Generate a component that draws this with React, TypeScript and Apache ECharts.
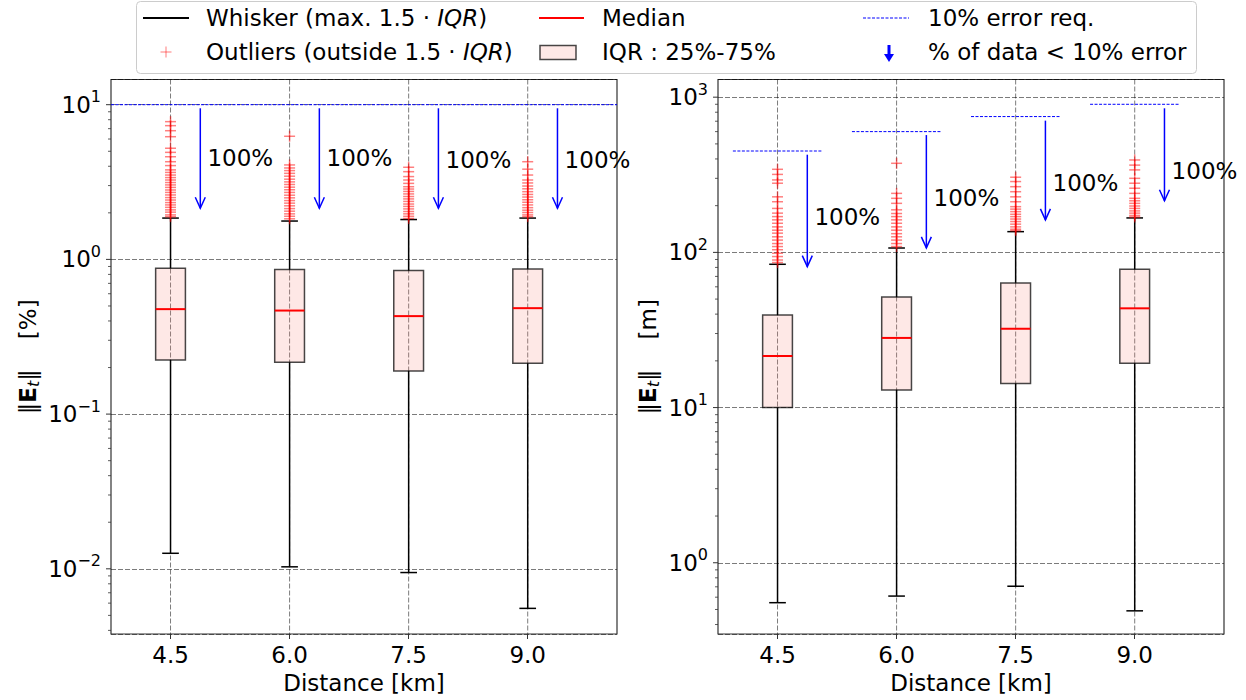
import React, { useEffect, useRef } from 'react';
import * as echarts from 'echarts';

const FONT = 'DejaVu Sans';
const FS = 23;
const SUP = 16;

// Categories (distance in km) and their box positions
const categories = ['4.5', '6.0', '7.5', '9.0'];
const positions = [1, 2, 3, 4];

// ---------- Left panel: ||E_t|| [%] ----------
const leftWhiskerLow = [0.0126, 0.0103, 0.00946, 0.00555];
const leftQ1 = [0.224, 0.216, 0.19, 0.213];
const leftMedian = [0.477, 0.467, 0.43, 0.484];
const leftQ3 = [0.877, 0.86, 0.847, 0.868];
const leftWhiskerHigh = [1.85, 1.77, 1.81, 1.85];
const leftOutliers = [
  [7.77, 7.32, 6.79, 6.21, 5.23, 4.92, 4.61, 4.28, 4.04, 3.79, 3.65, 3.51, 3.38, 3.26, 3.14, 3.03, 2.92, 2.81, 2.71, 2.61, 2.51, 2.42, 2.33, 2.25, 2.17, 2.09, 2.02, 1.94, 1.89],
  [6.25, 4.08, 3.9, 3.75, 3.6, 3.45, 3.3, 3.17, 3.05, 2.93, 2.82, 2.71, 2.6, 2.5, 2.4, 2.31, 2.22, 2.13, 2.05, 1.97, 1.9, 1.83],
  [3.94, 3.69, 3.43, 3.26, 3.1, 2.95, 2.85, 2.75, 2.65, 2.55, 2.46, 2.37, 2.28, 2.2, 2.12, 2.04, 1.97, 1.9, 1.84],
  [4.28, 3.83, 3.51, 3.26, 3.12, 2.98, 2.86, 2.74, 2.63, 2.53, 2.43, 2.34, 2.25, 2.16, 2.08, 2.01, 1.94, 1.89],
];
const leftRequirement = [10];
const leftArrowTop = [9.48, 9.48, 9.48, 9.48];
const leftArrowBottom = [2.14, 2.14, 2.14, 2.14];
const leftLabelValue = [4.5, 4.5, 4.4, 4.4];
const leftPctLabels = ['100%', '100%', '100%', '100%'];

// ---------- Right panel: ||E_t|| [m] ----------
const rightWhiskerLow = [0.553, 0.61, 0.706, 0.49];
const rightQ1 = [10.0, 13.0, 14.3, 19.3];
const rightMedian = [21.5, 28.1, 32.2, 43.6];
const rightQ3 = [39.5, 51.6, 63.6, 77.8];
const rightWhiskerHigh = [83.8, 106.7, 136, 166.7];
const rightOutliers = [
  [343, 318, 293, 279, 228, 212, 192, 179, 170, 162, 154, 146, 139, 133, 126, 120, 114, 109, 104, 98.7, 94, 89.3, 86],
  [375, 240, 223, 207, 188, 178, 170, 162, 154, 146, 139, 132, 126, 120, 114, 109],
  [305, 286, 265, 246, 228, 212, 197, 190, 183, 176, 170, 164, 158, 152, 146, 141, 138],
  [394, 365, 340, 300, 279, 259, 240, 223, 215, 207, 199, 192, 185, 179, 173, 169],
];
const rightRequirement = [450, 600, 750, 900];
const rightArrowTop = [426, 570, 706, 848];
const rightArrowBottom = [80.9, 107, 162, 215];
const rightLabelValue = [169, 223, 281, 336];
const rightPctLabels = ['100%', '100%', '100%', '100%'];

// Axis tick values
const leftMajorTicks = [0.01, 0.1, 1, 10];
const rightMajorTicks = [1, 10, 100, 1000];
const minorDecades = (exps: number[]) => {
  const out: number[] = [];
  exps.forEach((e) => {
    [2, 3, 4, 5, 6, 7, 8, 9].forEach((m) => out.push(+(m * Math.pow(10, e)).toPrecision(3)));
  });
  return out;
};
const leftMinorTicks = minorDecades([-3, -2, -1, 0, 1]);
const rightMinorTicks = minorDecades([-1, 0, 1, 2, 3]);

const powLabel = (v: number) => {
  const e = Math.log10(v);
  const r = Math.round(e);
  if (Math.abs(e - r) > 1e-6) return '';
  return '10{sup|' + (r < 0 ? '\u2212' + -r : String(r)) + '}';
};

const gridLine = { color: 'rgba(0,0,0,0.65)', width: 0.8, type: [5, 2] as any };

function makeYAxis(gridIndex: number, min: number, max: number, unit: string, nameGap: number) {
  return {
    type: 'log',
    logBase: 10,
    gridIndex,
    min,
    max,
    axisLine: { show: false },
    axisTick: { show: false },
    axisLabel: {
      formatter: powLabel,
      fontSize: FS,
      color: '#000',
      fontFamily: FONT,
      margin: 10,
      showMinLabel: false,
      showMaxLabel: false,
      rich: { sup: { fontSize: SUP, color: '#000', fontFamily: FONT, padding: [0, 0, 16, 0] } },
    },
    splitLine: { show: true, lineStyle: gridLine },
    minorTick: { show: false },
    name: '{n|\u2016}{b|E}{s|t}{n|\u2016}{g| }{n|[' + unit + ']}',
    nameLocation: 'middle',
    nameRotate: 90,
    nameGap,
    nameTextStyle: {
      fontSize: FS,
      color: '#000',
      fontFamily: FONT,
      rich: {
        n: { fontSize: FS, color: '#000', fontFamily: FONT },
        b: { fontSize: FS, color: '#000', fontFamily: FONT, fontWeight: 'bold' },
        s: { fontSize: SUP, color: '#000', fontFamily: FONT, fontStyle: 'italic', padding: [10, 0, 0, 0] },
        g: { fontSize: FS, width: 30 },
      },
    },
  };
}

function makeXAxis(gridIndex: number) {
  return {
    type: 'value',
    gridIndex,
    min: 0.5,
    max: 4.75,
    axisLine: { show: false },
    axisTick: { show: true, customValues: positions, length: 5, lineStyle: { color: '#333', width: 1 } },
    axisLabel: {
      customValues: positions,
      formatter: (v: number) => categories[Math.round(v) - 1] ?? '',
      fontSize: FS,
      color: '#000',
      fontFamily: FONT,
      margin: 9,
    },
    splitLine: { show: false },
    name: 'Distance [km]',
    nameLocation: 'middle',
    nameGap: 37,
    nameTextStyle: { fontSize: FS, color: '#000', fontFamily: FONT },
  };
}

function vGridSeries(idx: number) {
  return {
    type: 'custom',
    xAxisIndex: idx,
    yAxisIndex: idx,
    silent: true,
    z: 1,
    data: positions.map((p) => [p, 1]),
    renderItem: (params: any, api: any) => {
      const cs = params.coordSys;
      const x = api.coord([api.value(0), 1])[0];
      return {
        type: 'line',
        shape: { x1: x, y1: cs.y, x2: x, y2: cs.y + cs.height },
        style: { stroke: gridLine.color, lineWidth: gridLine.width, lineDash: [5, 2] },
      };
    },
  };
}

function tickSeries(idx: number, major: number[], minor: number[]) {
  const data = major.map((v) => [0.5, v, 1]).concat(minor.map((v) => [0.5, v, 0]));
  return {
    type: 'custom',
    xAxisIndex: idx,
    yAxisIndex: idx,
    silent: true,
    z: 2,
    data,
    renderItem: (params: any, api: any) => {
      const cs = params.coordSys;
      const y = api.coord([1, api.value(1)])[1];
      if (y < cs.y - 0.5 || y > cs.y + cs.height + 0.5) return null;
      const len = api.value(2) === 1 ? 5 : 3;
      return {
        type: 'line',
        shape: { x1: cs.x - len, y1: y, x2: cs.x, y2: y },
        style: { stroke: '#333', lineWidth: api.value(2) === 1 ? 1 : 0.8 },
      };
    },
  };
}

function boxSeries(idx: number, low: number[], q1: number[], med: number[], q3: number[], high: number[]) {
  return {
    type: 'custom',
    xAxisIndex: idx,
    yAxisIndex: idx,
    silent: true,
    z: 3,
    data: positions.map((p, i) => [p, low[i], q1[i], med[i], q3[i], high[i]]),
    renderItem: (_params: any, api: any) => {
      const x = api.value(0);
      const pLow = api.coord([x, api.value(1)]);
      const pQ1 = api.coord([x, api.value(2)]);
      const pMed = api.coord([x, api.value(3)]);
      const pQ3 = api.coord([x, api.value(4)]);
      const pHigh = api.coord([x, api.value(5)]);
      const half = api.size([0.25, 1])[0] / 2;
      const cap = api.size([0.14, 1])[0] / 2;
      const cx = pQ1[0];
      const black = { stroke: '#000', lineWidth: 1.5 };
      return {
        type: 'group',
        children: [
          { type: 'line', shape: { x1: cx, y1: pLow[1], x2: cx, y2: pQ1[1] }, style: black },
          { type: 'line', shape: { x1: cx, y1: pQ3[1], x2: cx, y2: pHigh[1] }, style: black },
          { type: 'line', shape: { x1: cx - cap, y1: pLow[1], x2: cx + cap, y2: pLow[1] }, style: black },
          { type: 'line', shape: { x1: cx - cap, y1: pHigh[1], x2: cx + cap, y2: pHigh[1] }, style: black },
          {
            type: 'rect',
            shape: { x: cx - half, y: pQ3[1], width: 2 * half, height: pQ1[1] - pQ3[1] },
            style: { fill: 'rgba(250,128,114,0.18)', stroke: 'rgba(0,0,0,0.72)', lineWidth: 1.5 },
          },
          { type: 'line', shape: { x1: cx - half, y1: pMed[1], x2: cx + half, y2: pMed[1] }, style: { stroke: '#ff0000', lineWidth: 2 } },
        ],
      };
    },
  };
}

function outlierSeries(idx: number, outliers: number[][]) {
  const data: number[][] = [];
  outliers.forEach((arr, i) => arr.forEach((v) => data.push([positions[i], v])));
  return {
    type: 'custom',
    xAxisIndex: idx,
    yAxisIndex: idx,
    silent: true,
    z: 4,
    data,
    renderItem: (_params: any, api: any) => {
      const p = api.coord([api.value(0), api.value(1)]);
      const s = 5.5;
      const st = { stroke: 'rgba(255,0,0,0.5)', lineWidth: 1.5 };
      return {
        type: 'group',
        children: [
          { type: 'line', shape: { x1: p[0] - s, y1: p[1], x2: p[0] + s, y2: p[1] }, style: st },
          { type: 'line', shape: { x1: p[0], y1: p[1] - s, x2: p[0], y2: p[1] + s }, style: st },
        ],
      };
    },
  };
}

function reqSeriesFull(idx: number, req: number[]) {
  return {
    type: 'custom',
    xAxisIndex: idx,
    yAxisIndex: idx,
    silent: true,
    z: 2,
    data: req.map((v) => [1, v]),
    renderItem: (params: any, api: any) => {
      const cs = params.coordSys;
      const y = api.coord([1, api.value(1)])[1];
      return {
        type: 'line',
        shape: { x1: cs.x, y1: y, x2: cs.x + cs.width, y2: y },
        style: { stroke: '#0000ff', lineWidth: 1, lineDash: [3, 1.5] },
      };
    },
  };
}

function reqSeriesSeg(idx: number, req: number[]) {
  return {
    type: 'custom',
    xAxisIndex: idx,
    yAxisIndex: idx,
    silent: true,
    z: 2,
    data: positions.map((p, i) => [p, req[i]]),
    renderItem: (_params: any, api: any) => {
      const a = api.coord([api.value(0) - 0.375, api.value(1)]);
      const b = api.coord([api.value(0) + 0.375, api.value(1)]);
      return {
        type: 'line',
        shape: { x1: a[0], y1: a[1], x2: b[0], y2: b[1] },
        style: { stroke: '#0000ff', lineWidth: 1, lineDash: [3, 1.5] },
      };
    },
  };
}

function arrowSeries(idx: number, top: number[], bottom: number[], labelV: number[], labels: string[]) {
  return {
    type: 'custom',
    xAxisIndex: idx,
    yAxisIndex: idx,
    silent: true,
    z: 5,
    data: positions.map((p, i) => [p, top[i], bottom[i], labelV[i]]),
    renderItem: (params: any, api: any) => {
      const x = api.value(0);
      const a = api.coord([x + 0.25, api.value(1)]);
      const b = api.coord([x + 0.25, api.value(2)]);
      const t = api.coord([x + 0.31, api.value(3)]);
      const st = { stroke: '#0000ff', lineWidth: 1.5, fill: 'none' };
      return {
        type: 'group',
        children: [
          { type: 'line', shape: { x1: a[0], y1: a[1], x2: b[0], y2: b[1] }, style: st },
          { type: 'polyline', shape: { points: [[b[0] - 5, b[1] - 11], [b[0], b[1]], [b[0] + 5, b[1] - 11]] }, style: st },
          {
            type: 'text',
            x: t[0],
            y: t[1],
            style: { text: labels[params.dataIndex], fill: '#000', fontSize: FS, fontFamily: FONT, align: 'left', verticalAlign: 'middle' },
          },
        ],
      };
    },
  };
}

function legendGraphics() {
  const txt = (x: number, y: number, text: string) => ({
    type: 'text',
    x,
    y,
    z: 101,
    style: {
      text,
      fill: '#000',
      fontSize: FS,
      fontFamily: FONT,
      verticalAlign: 'middle',
      align: 'left',
      rich: { i: { fontStyle: 'italic', fontSize: FS, fontFamily: FONT, fill: '#000' } },
    },
  });
  return [
    { type: 'rect', z: 100, shape: { x: 136.5, y: 1.5, width: 1060, height: 72, r: 4 }, style: { fill: '#fff', stroke: '#cccccc', lineWidth: 1 } },
    { type: 'line', z: 101, shape: { x1: 143, y1: 18, x2: 189, y2: 18 }, style: { stroke: '#000', lineWidth: 2 } },
    txt(206, 18, 'Whisker (max. 1.5 \u00b7 {i|IQR})'),
    { type: 'line', z: 101, shape: { x1: 160.5, y1: 52, x2: 171.5, y2: 52 }, style: { stroke: 'rgba(255,0,0,0.4)', lineWidth: 1.3 } },
    { type: 'line', z: 101, shape: { x1: 166, y1: 46.5, x2: 166, y2: 57.5 }, style: { stroke: 'rgba(255,0,0,0.4)', lineWidth: 1.3 } },
    txt(206, 52, 'Outliers (outside 1.5 \u00b7 {i|IQR})'),
    { type: 'line', z: 101, shape: { x1: 539, y1: 18, x2: 584, y2: 18 }, style: { stroke: '#ff0000', lineWidth: 2 } },
    txt(602, 18, 'Median'),
    { type: 'rect', z: 101, shape: { x: 540, y: 45.5, width: 36, height: 14 }, style: { fill: 'rgba(250,128,114,0.18)', stroke: 'rgba(0,0,0,0.72)', lineWidth: 1.5 } },
    txt(602, 52, 'IQR : 25%-75%'),
    { type: 'line', z: 101, shape: { x1: 863, y1: 18, x2: 909, y2: 18 }, style: { stroke: '#0000ff', lineWidth: 1, lineDash: [3, 1.5] } },
    txt(928, 18, '10% error req.'),
    {
      type: 'polygon',
      z: 101,
      shape: { points: [[887.5, 45], [890.5, 45], [890.5, 54], [894, 54], [889, 62], [884, 54], [887.5, 54]] },
      style: { fill: '#0000ff' },
    },
    txt(928, 52, '% of data < 10% error'),
  ];
}

export default function App() {
  const ref = useRef<HTMLDivElement>(null);
  useEffect(() => {
    if (!ref.current) return;
    const chart = echarts.init(ref.current, undefined, { renderer: 'svg' });
    const option: any = {
      animation: false,
      backgroundColor: '#fff',
      textStyle: { fontFamily: FONT },
      grid: [
        { left: 111, top: 79.5, width: 506, height: 554.5, show: true, borderColor: '#333', borderWidth: 1.2, backgroundColor: 'transparent' },
        { left: 718, top: 79.5, width: 506, height: 554.5, show: true, borderColor: '#333', borderWidth: 1.2, backgroundColor: 'transparent' },
      ],
      xAxis: [makeXAxis(0), makeXAxis(1)],
      yAxis: [makeYAxis(0, 0.00379, 14.55, '%', 70), makeYAxis(1, 0.3475, 1300, 'm', 57)],
      series: [
        vGridSeries(0),
        vGridSeries(1),
        tickSeries(0, leftMajorTicks, leftMinorTicks),
        tickSeries(1, rightMajorTicks, rightMinorTicks),
        reqSeriesFull(0, leftRequirement),
        reqSeriesSeg(1, rightRequirement),
        boxSeries(0, leftWhiskerLow, leftQ1, leftMedian, leftQ3, leftWhiskerHigh),
        boxSeries(1, rightWhiskerLow, rightQ1, rightMedian, rightQ3, rightWhiskerHigh),
        outlierSeries(0, leftOutliers),
        outlierSeries(1, rightOutliers),
        arrowSeries(0, leftArrowTop, leftArrowBottom, leftLabelValue, leftPctLabels),
        arrowSeries(1, rightArrowTop, rightArrowBottom, rightLabelValue, rightPctLabels),
      ],
      graphic: legendGraphics(),
    };
    chart.setOption(option);
    return () => chart.dispose();
  }, []);
  return <div ref={ref} style={{ position: 'absolute', left: 0, top: 0, width: 1246, height: 700 }} />;
}
